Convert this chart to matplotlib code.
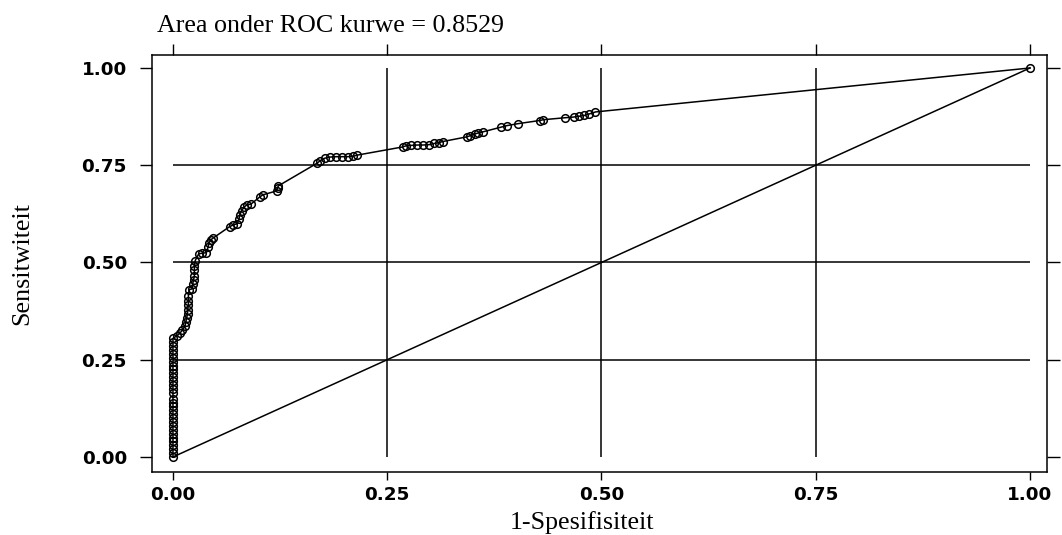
import matplotlib
matplotlib.use("Agg")
import matplotlib.pyplot as plt

# ROC punte (1-spesifisiteit, sensitiwiteit), afgelees van die grafiek
fpr = [0.0, 0.0, 0.0, 0.0, 0.0, 0.0, 0.0, 0.0, 0.0, 0.0,
       0.0, 0.0, 0.0, 0.0, 0.0, 0.0, 0.0, 0.0, 0.0, 0.0,
       0.0, 0.0, 0.0, 0.0, 0.0, 0.0, 0.0, 0.0, 0.0, 0.0, 0.0,
       0.005, 0.008, 0.011, 0.014, 0.015, 0.016, 0.017, 0.017, 0.018, 0.018,
       0.018, 0.019, 0.022, 0.023, 0.024, 0.025, 0.025, 0.025, 0.026, 0.030,
       0.034, 0.039, 0.041, 0.042, 0.044, 0.047, 0.066, 0.070, 0.075, 0.077,
       0.078, 0.080, 0.083, 0.086, 0.091, 0.101, 0.105, 0.121, 0.122, 0.123,
       0.168, 0.172, 0.177, 0.183, 0.190, 0.197, 0.204, 0.210, 0.215,
       0.268, 0.272, 0.278, 0.285, 0.292, 0.299, 0.305, 0.310, 0.315,
       0.343, 0.347, 0.352, 0.356, 0.362, 0.383, 0.390, 0.403, 0.428, 0.432,
       0.457, 0.468, 0.474, 0.480, 0.486, 0.493, 1.0]
tpr = [0.000, 0.010, 0.020, 0.030, 0.040, 0.050, 0.060, 0.070, 0.080, 0.090,
       0.100, 0.110, 0.120, 0.130, 0.140, 0.150, 0.165, 0.175, 0.185, 0.195,
       0.205, 0.215, 0.225, 0.235, 0.245, 0.255, 0.265, 0.275, 0.285, 0.295, 0.305,
       0.312, 0.318, 0.326, 0.336, 0.347, 0.358, 0.368, 0.378, 0.390, 0.400,
       0.415, 0.430, 0.432, 0.445, 0.455, 0.465, 0.480, 0.492, 0.505, 0.522,
       0.524, 0.525, 0.540, 0.550, 0.558, 0.563, 0.592, 0.596, 0.600, 0.612,
       0.622, 0.633, 0.642, 0.648, 0.650, 0.668, 0.674, 0.684, 0.692, 0.697,
       0.755, 0.762, 0.768, 0.771, 0.772, 0.772, 0.772, 0.773, 0.776,
       0.797, 0.800, 0.801, 0.802, 0.802, 0.803, 0.806, 0.808, 0.811,
       0.823, 0.826, 0.830, 0.833, 0.836, 0.848, 0.852, 0.857, 0.865, 0.867,
       0.872, 0.874, 0.876, 0.878, 0.882, 0.887, 1.0]

ticks = [0.0, 0.25, 0.5, 0.75, 1.0]
tick_labels = ["0.00", "0.25", "0.50", "0.75", "1.00"]
grid_pos = [0.25, 0.5, 0.75]

titel = "Area onder ROC kurwe = 0.8529"
x_titel = "1-Spesifisiteit"
y_titel = "Sensitwiteit"

fig = plt.figure(figsize=(10.62, 5.35), dpi=100)
ax = fig.add_axes([0.1431, 0.1178, 0.8427, 0.7794])

# rooster binne die [0,1] gebied
ax.vlines(grid_pos, 0, 1, color="black", lw=1.1)
ax.hlines(grid_pos, 0, 1, color="black", lw=1.1)

# diagonaal verwysingslyn
ax.plot([0, 1], [0, 1], color="black", lw=1.1)

# ROC kurwe
ax.plot(fpr, tpr, color="black", lw=1.1, marker="o", markersize=5.5,
        markerfacecolor="none", markeredgecolor="black", markeredgewidth=1.1)

ax.set_xlim(-0.0245, 1.0198)
ax.set_ylim(-0.0386, 1.0334)

ax.set_xticks(ticks)
ax.set_xticklabels(tick_labels)
ax.set_yticks(ticks)
ax.set_yticklabels(tick_labels)

for lab in ax.get_xticklabels() + ax.get_yticklabels():
    lab.set_fontfamily("DejaVu Sans")
    lab.set_fontweight("bold")
    lab.set_fontsize(13.2)

ax.tick_params(axis="x", which="both", direction="out", length=6, width=1,
               top=True, bottom=True, labeltop=False, pad=4)
ax.tick_params(axis="y", which="both", direction="out", length=9, width=1,
               left=True, right=True, labelright=False, pad=9)
for t in ax.xaxis.get_major_ticks():
    t.tick2line.set_markersize(8)

for s in ax.spines.values():
    s.set_linewidth(1.1)
    s.set_color("black")

fig.text(0.148, 0.940, titel, ha="left", va="baseline",
         family="Liberation Serif", fontsize=18.7)
fig.text(0.548, 0.012, x_titel, ha="center", va="baseline",
         family="Liberation Serif", fontsize=18.7)
fig.text(0.021, 0.508, y_titel, ha="center", va="center", rotation=90,
         family="Liberation Serif", fontsize=18.7)

fig.savefig("out.png", dpi=100)
